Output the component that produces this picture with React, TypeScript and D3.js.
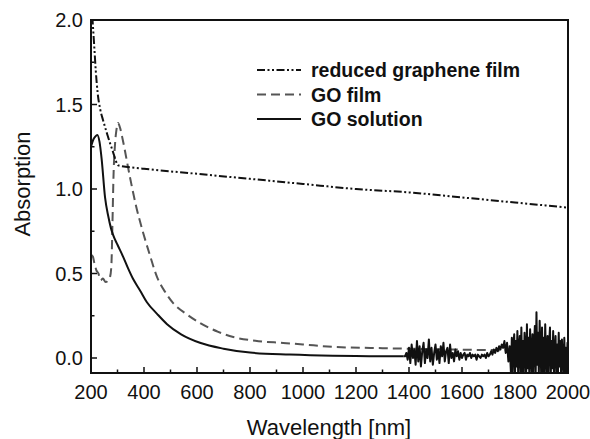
import React, { useEffect, useRef } from 'react';
import * as d3 from 'd3';

// reduced graphene film (dash-dot-dot)
const reducedFilm: [number, number][] = [
  [205, 2.02], [212, 1.85], [218, 1.7], [225, 1.57], [235, 1.47], [245, 1.41],
  [260, 1.33], [272, 1.27], [283, 1.22], [293, 1.17], [302, 1.14],
  [400, 1.12], [600, 1.09], [800, 1.06], [1000, 1.03], [1200, 1.0],
  [1400, 0.98], [1600, 0.95], [1800, 0.92], [2000, 0.89],
];

// GO film (dashed, grey)
const goFilm: [number, number][] = [
  [200, 0.61], [207, 0.6], [213, 0.56], [220, 0.52], [228, 0.5], [236, 0.46],
  [245, 0.47], [255, 0.45], [265, 0.46], [272, 0.48], [277, 0.55], [281, 0.8],
  [285, 1.08], [290, 1.25], [296, 1.35], [302, 1.39], [310, 1.36], [320, 1.29],
  [347, 1.07], [370, 0.9], [397, 0.74], [420, 0.62], [449, 0.48], [480, 0.39],
  [510, 0.325], [560, 0.26], [611, 0.207], [680, 0.155], [737, 0.124],
  [820, 0.102], [925, 0.089], [1000, 0.08], [1113, 0.066], [1300, 0.058],
  [1500, 0.052], [1700, 0.047], [1800, 0.045], [2000, 0.04],
];

// GO solution (solid), smooth part
const goSolution: [number, number][] = [
  [200, 1.25], [208, 1.29], [216, 1.31], [224, 1.32], [232, 1.28], [240, 1.18],
  [253, 0.95], [265, 0.84], [275, 0.77], [283, 0.73], [300, 0.67], [321, 0.6],
  [340, 0.53], [358, 0.47], [385, 0.4], [411, 0.33], [450, 0.26], [487, 0.2],
  [540, 0.14], [611, 0.09], [700, 0.055], [800, 0.032], [950, 0.02],
  [1113, 0.013], [1250, 0.011], [1380, 0.01],
];

// GO solution, noisy NIR part
const noiseStartA = 1385;
const noiseStepA = 5;
const noiseA = [
  0.01, 0.03, -0.01, 0.06, -0.03, 0.08, 0.0, 0.05, -0.04, 0.1,
  -0.02, 0.07, -0.05, 0.04, 0.09, -0.03, 0.05, 0.0, 0.11, -0.02,
  0.06, -0.04, 0.03, 0.08, -0.01, 0.05, -0.03, 0.07, 0.01, 0.09,
  -0.02, 0.04, 0.06, -0.03, 0.08, 0.0, 0.03, -0.02, 0.05, 0.01,
  0.04, -0.01, 0.03, 0.0, 0.02, 0.03, -0.01, 0.02, 0.01, 0.03,
  0.0, 0.02, 0.01, 0.02, -0.01, 0.02, 0.01, 0.0, 0.02, 0.01,
  0.02, 0.0, 0.03, 0.01, 0.02, 0.04, 0.02, 0.05, 0.03, 0.06,
  0.04, 0.07, 0.05, 0.08, 0.06, 0.1, 0.03, 0.09, -0.02, 0.07,
];
const noiseStartB = 1785;
const noiseStepB = 3;
const noiseB = [
  -0.1, 0.12, -0.1, 0.08, 0.14, -0.1, 0.1, -0.05, 0.16, -0.1,
  0.06, 0.13, -0.1, 0.18, -0.08, 0.1, -0.1, 0.15, 0.05, -0.1,
  0.2, -0.06, 0.12, -0.1, 0.17, 0.02, -0.1, 0.14, -0.1, 0.08,
  0.19, -0.1, 0.27, -0.04, 0.15, -0.1, 0.22, 0.05, -0.1, 0.18,
  -0.08, 0.12, -0.1, 0.2, 0.0, -0.1, 0.13, -0.1, 0.09, 0.18,
  -0.1, 0.1, -0.06, 0.16, -0.1, 0.04, 0.13, -0.1, 0.08, -0.1,
  0.15, -0.05, 0.1, -0.1, 0.11, 0.0, -0.1, 0.12, -0.08, 0.06,
  -0.1, 0.09,
];

const xTicks = [200, 400, 600, 800, 1000, 1200, 1400, 1600, 1800, 2000];
const yTicks = [0.0, 0.5, 1.0, 1.5, 2.0];
const legendLabels = ['reduced graphene film', 'GO film', 'GO solution'];

const W = 590;
const H = 439;

const App = () => {
  const svgRef = useRef<SVGSVGElement>(null);

  useEffect(() => {
    const svg = d3.select(svgRef.current);
    svg.selectAll('*').remove();

    const left = 91, right = 568, top = 20, bottom = 373;
    const x = d3.scaleLinear().domain([200, 2000]).range([left, right]);
    const y = d3.scaleLinear().domain([0, 2]).range([358, top]);

    const font = '"Liberation Sans", Arial, Helvetica, sans-serif';

    svg.append('defs').append('clipPath').attr('id', 'plot-clip')
      .append('rect')
      .attr('x', left).attr('y', top)
      .attr('width', right - left).attr('height', bottom - top);

    const line = d3.line<[number, number]>()
      .x(d => x(d[0]))
      .y(d => y(d[1]))
      .curve(d3.curveMonotoneX);

    const sharp = d3.line<[number, number]>()
      .x(d => x(d[0]))
      .y(d => y(d[1]));

    const plot = svg.append('g').attr('clip-path', 'url(#plot-clip)');

    plot.append('path')
      .attr('d', line(goFilm))
      .attr('fill', 'none')
      .attr('stroke', '#555')
      .attr('stroke-width', 2)
      .attr('stroke-dasharray', '9,5');

    plot.append('path')
      .attr('d', line(reducedFilm))
      .attr('fill', 'none')
      .attr('stroke', '#111')
      .attr('stroke-width', 2)
      .attr('stroke-dasharray', '8,2.5,2,2.5,2,2.5');

    plot.append('path')
      .attr('d', line(goSolution))
      .attr('fill', 'none')
      .attr('stroke', '#111')
      .attr('stroke-width', 2);

    const noisy: [number, number][] = [
      [1380, 0.01],
      ...noiseA.map((v, i) => [noiseStartA + i * noiseStepA, v] as [number, number]),
      ...noiseB.map((v, i) => [noiseStartB + i * noiseStepB, v] as [number, number]),
      [2000, 0.05],
    ];
    plot.append('path')
      .attr('d', sharp(noisy))
      .attr('fill', 'none')
      .attr('stroke', '#111')
      .attr('stroke-width', 2)
      .attr('stroke-linejoin', 'round');

    // frame
    svg.append('rect')
      .attr('x', left).attr('y', top)
      .attr('width', right - left).attr('height', bottom - top)
      .attr('fill', 'none')
      .attr('stroke', '#111')
      .attr('stroke-width', 2);

    // x ticks (inward), minor every 100
    const xMinor = d3.range(300, 2000, 200);
    svg.selectAll('.xmaj').data(xTicks).enter().append('line')
      .attr('x1', d => x(d)).attr('x2', d => x(d))
      .attr('y1', bottom).attr('y2', bottom - 6)
      .attr('stroke', '#111').attr('stroke-width', 1.5);
    svg.selectAll('.xmin').data(xMinor).enter().append('line')
      .attr('x1', d => x(d)).attr('x2', d => x(d))
      .attr('y1', bottom).attr('y2', bottom - 3.5)
      .attr('stroke', '#111').attr('stroke-width', 1.5);
    svg.selectAll('.xlab').data(xTicks).enter().append('text')
      .attr('x', d => x(d)).attr('y', 399)
      .attr('text-anchor', 'middle')
      .attr('font-family', font).attr('font-size', 20).attr('fill', '#111')
      .text(d => d);

    const yMinor = [0.25, 0.75, 1.25, 1.75];
    svg.selectAll('.ymaj').data(yTicks).enter().append('line')
      .attr('x1', left).attr('x2', left + 6)
      .attr('y1', d => y(d)).attr('y2', d => y(d))
      .attr('stroke', '#111').attr('stroke-width', 1.5);
    svg.selectAll('.ymin').data(yMinor).enter().append('line')
      .attr('x1', left).attr('x2', left + 3.5)
      .attr('y1', d => y(d)).attr('y2', d => y(d))
      .attr('stroke', '#111').attr('stroke-width', 1.5);
    svg.selectAll('.ylab').data(yTicks).enter().append('text')
      .attr('x', 83).attr('y', d => y(d) + 7)
      .attr('text-anchor', 'end')
      .attr('font-family', font).attr('font-size', 20).attr('fill', '#111')
      .text(d => d.toFixed(1));

    svg.append('text')
      .attr('x', 329).attr('y', 435)
      .attr('text-anchor', 'middle')
      .attr('font-family', font).attr('font-size', 22).attr('fill', '#111')
      .text('Wavelength [nm]');

    svg.append('text')
      .attr('transform', 'translate(30,184) rotate(-90)')
      .attr('text-anchor', 'middle')
      .attr('font-family', font).attr('font-size', 22).attr('fill', '#111')
      .text('Absorption');

    // legend
    const legendStyles = [
      { stroke: '#111', dash: '8,2.5,2,2.5,2,2.5' },
      { stroke: '#555', dash: '9,5' },
      { stroke: '#111', dash: null },
    ];
    legendLabels.forEach((label, i) => {
      const ly = 70 + i * 24.5;
      svg.append('line')
        .attr('x1', 257).attr('x2', 301)
        .attr('y1', ly).attr('y2', ly)
        .attr('stroke', legendStyles[i].stroke)
        .attr('stroke-width', 2)
        .attr('stroke-dasharray', legendStyles[i].dash);
      svg.append('text')
        .attr('x', 311).attr('y', ly + 7)
        .attr('font-family', font).attr('font-size', 19.5).attr('font-weight', 'bold')
        .attr('fill', '#111')
        .text(label);
    });
  }, []);

  return (
    <div style={{ position: 'absolute', left: 0, top: 0, background: '#fff' }}>
      <svg ref={svgRef} width={W} height={H} style={{ display: 'block' }} />
    </div>
  );
};

export default App;
